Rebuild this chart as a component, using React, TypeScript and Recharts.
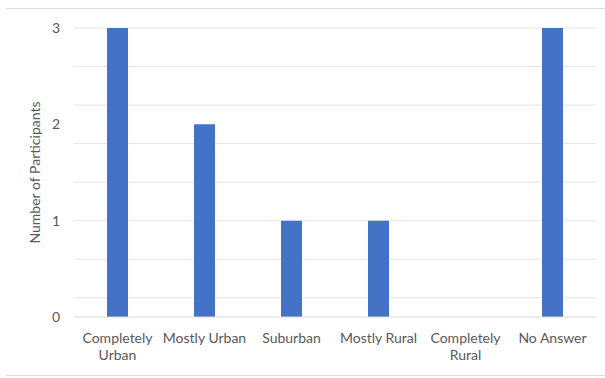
import { BarChart, Bar, XAxis, YAxis, CartesianGrid, Text } from 'recharts';

const categories = ['Completely Urban', 'Mostly Urban', 'Suburban', 'Mostly Rural', 'Completely Rural', 'No Answer'];
const participants = [3, 2, 1, 1, 0, 3];
const yTicks = [0, 1, 2, 3];
const gridLines = [0, 0.2, 0.4, 0.6, 0.8, 1, 1.2, 1.4, 1.6, 1.8, 2, 2.2, 2.4, 2.6, 2.8, 3];

const data = categories.map((name, i) => ({ name, value: participants[i] }));

const FONT = 'Lato, "Open Sans", sans-serif';

function CategoryTick(props: any) {
  const { x, y, payload } = props;
  return (
    <Text
      x={x}
      y={y}
      width={100}
      textAnchor="middle"
      verticalAnchor="start"
      lineHeight={17}
      style={{ fontFamily: FONT, fontSize: 14, fill: '#595959' }}
    >
      {payload.value}
    </Text>
  );
}

export default function App() {
  return (
    <div style={{ position: 'fixed', top: 0, left: 0, width: 605, height: 378, background: '#fff' }}>
      {/* cropped table borders */}
      <div style={{ position: 'absolute', left: 6, right: 0, top: 8, height: 1, background: '#dcdcdc' }} />
      <div style={{ position: 'absolute', left: 6, right: 0, top: 375, height: 1, background: '#dcdcdc' }} />
      <BarChart
        width={605}
        height={378}
        data={data}
        margin={{ top: 28, right: 9, bottom: 0, left: 0 }}
        barCategoryGap={33}
      >
        <CartesianGrid
          vertical={false}
          stroke="#e6e6e6"
          horizontalValues={gridLines}
        />
        <XAxis
          dataKey="name"
          interval={0}
          axisLine={{ stroke: '#d9d9d9' }}
          tickLine={false}
          tick={<CategoryTick />}
          tickMargin={10}
          height={61}
        />
        <YAxis
          domain={[0, 3]}
          ticks={yTicks}
          width={74}
          axisLine={false}
          tickLine={false}
          tickSize={0}
          tickMargin={14}
          tick={{ fontFamily: FONT, fontSize: 14, fill: '#595959' }}
          label={{
            value: 'Number of Participants',
            angle: -90,
            position: 'center',
            dx: -2,
            style: { fontFamily: FONT, fontSize: 14, fill: '#595959', textAnchor: 'middle' },
          }}
        />
        <Bar dataKey="value" fill="#4472C4" isAnimationActive={false} />
      </BarChart>
    </div>
  );
}
